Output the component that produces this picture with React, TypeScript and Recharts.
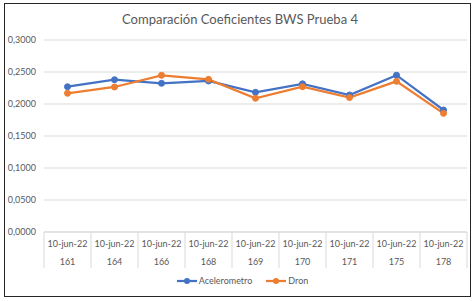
import React from "react";
import {
  LineChart,
  Line,
  XAxis,
  YAxis,
  CartesianGrid,
} from "recharts";

// values
const fechas = ["10-jun-22", "10-jun-22", "10-jun-22", "10-jun-22", "10-jun-22", "10-jun-22", "10-jun-22", "10-jun-22", "10-jun-22"];
const pruebas = ["161", "164", "166", "168", "169", "170", "171", "175", "178"];
const acelerometro = [0.227, 0.238, 0.2323, 0.236, 0.2182, 0.2315, 0.214, 0.245, 0.1906];
const dron = [0.2167, 0.2266, 0.2448, 0.2385, 0.2089, 0.227, 0.21, 0.2354, 0.1854];
const yTicks = [0, 0.05, 0.1, 0.15, 0.2, 0.25, 0.3];

const data = pruebas.map((p, i) => ({
  key: `${fechas[i]}|${p}`,
  Acelerometro: acelerometro[i],
  Dron: dron[i],
}));

const TEXT = "#595959";
const GRID = "#d9d9d9";
const FONT = "Lato, 'Open Sans', sans-serif";

const W = 475;
const H = 301;
const LEFT = 44;
const RIGHT = 8;
// half of one category band, so points sit in the middle of each cell
const HALF = (W - LEFT - RIGHT) / pruebas.length / 2;

const fmt = (v: number) => v.toFixed(4).replace(".", ",");

function CategoryTick(props: any) {
  const { x, y, payload, index, visibleTicksCount } = props;
  const [fecha, prueba] = String(payload.value).split("|");
  const top = y - 8;
  return (
    <g>
      <line x1={x - HALF} x2={x - HALF} y1={top} y2={top + 36} stroke={GRID} />
      {index === visibleTicksCount - 1 && (
        <line x1={x + HALF} x2={x + HALF} y1={top} y2={top + 36} stroke={GRID} />
      )}
      <text x={x} y={top + 15} textAnchor="middle" fontSize={9} fill={TEXT} fontFamily={FONT}>
        {fecha}
      </text>
      <text x={x} y={top + 33} textAnchor="middle" fontSize={9} fill={TEXT} fontFamily={FONT}>
        {prueba}
      </text>
    </g>
  );
}

function ChartLegend() {
  const items = [
    { name: "Acelerometro", color: "#4472C4" },
    { name: "Dron", color: "#ED7D31" },
  ];
  return (
    <div
      style={{
        position: "absolute",
        left: 0,
        top: 275,
        width: W,
        display: "flex",
        justifyContent: "center",
        gap: 14,
        fontFamily: FONT,
        fontSize: 9,
        color: TEXT,
        paddingLeft: 10,
        boxSizing: "border-box",
      }}
    >
      {items.map((it) => (
        <div key={it.name} style={{ display: "flex", alignItems: "center" }}>
          <svg width={20} height={8} style={{ marginRight: 2 }}>
            <line x1={0} x2={20} y1={4} y2={4} stroke={it.color} strokeWidth={2.25} />
            <circle cx={10} cy={4} r={3} fill={it.color} />
          </svg>
          <span>{it.name}</span>
        </div>
      ))}
    </div>
  );
}

export default function App() {
  return (
    <div style={{ position: "absolute", left: 0, top: 0, width: W, height: H, background: "#fff" }}>
      <div
        style={{
          position: "absolute",
          left: 4,
          top: 3,
          width: 465,
          height: 292,
          border: "1.5px solid #262626",
        }}
      />
      <div
        style={{
          position: "absolute",
          left: 0,
          width: W,
          top: 11,
          textAlign: "center",
          fontFamily: FONT,
          fontSize: 13,
          color: TEXT,
          paddingLeft: 5,
          boxSizing: "border-box",
        }}
      >
        Comparación Coeficientes BWS Prueba 4
      </div>
      <LineChart
        width={W}
        height={H}
        data={data}
        margin={{ top: 40, right: RIGHT, bottom: 0, left: 0 }}
        style={{ position: "absolute", left: 0, top: 0 }}
      >
        <CartesianGrid vertical={false} stroke={GRID} />
        <XAxis
          dataKey="key"
          interval={0}
          height={69}
          padding={{ left: HALF, right: HALF }}
          tickLine={false}
          axisLine={{ stroke: GRID }}
          tick={<CategoryTick />}
        />
        <YAxis
          width={LEFT}
          domain={[0, 0.3]}
          ticks={yTicks}
          tickFormatter={fmt}
          tickLine={false}
          axisLine={false}
          tickMargin={2}
          tick={{ fontSize: 9, fill: TEXT, fontFamily: FONT }}
        />
        <Line
          dataKey="Acelerometro"
          stroke="#4472C4"
          strokeWidth={2.25}
          dot={{ r: 3, fill: "#4472C4", stroke: "#4472C4", strokeWidth: 1 }}
          isAnimationActive={false}
        />
        <Line
          dataKey="Dron"
          stroke="#ED7D31"
          strokeWidth={2.25}
          dot={{ r: 3, fill: "#ED7D31", stroke: "#ED7D31", strokeWidth: 1 }}
          isAnimationActive={false}
        />
      </LineChart>
      <ChartLegend />
    </div>
  );
}
